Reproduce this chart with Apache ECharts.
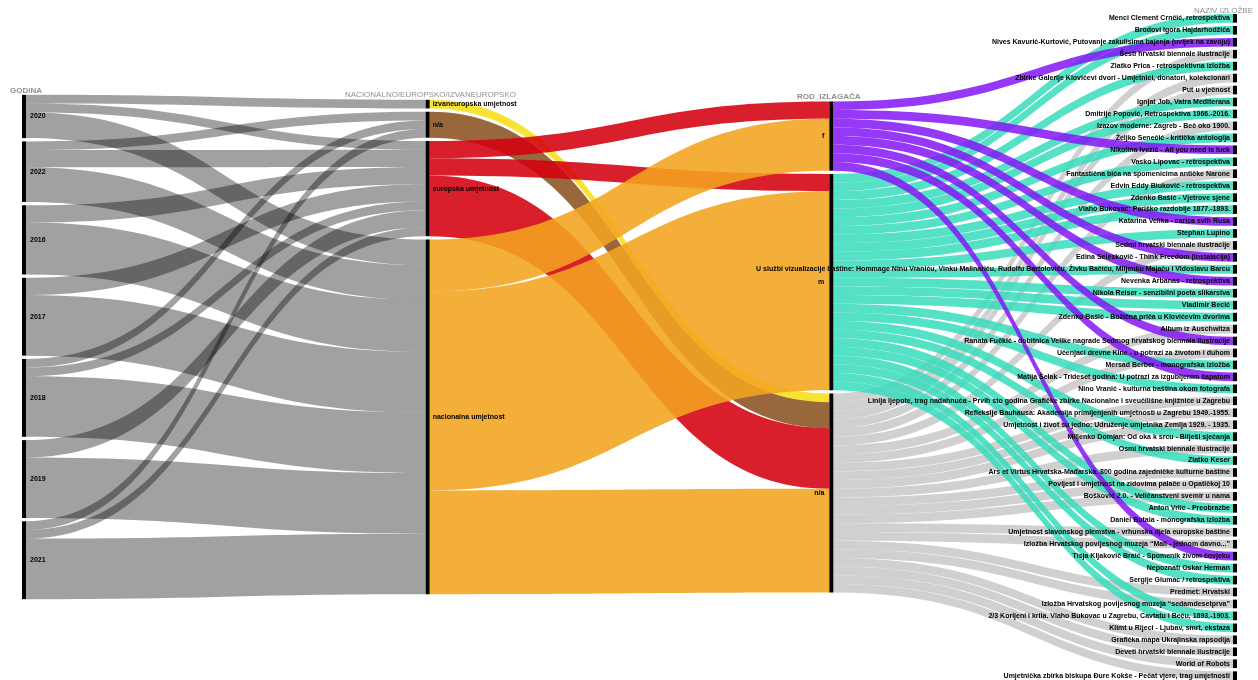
<!DOCTYPE html>
<html>
<head>
<meta charset="utf-8">
<title>Izložbe</title>
<script src="https://cdn.jsdelivr.net/npm/echarts@6/dist/echarts.min.js"></script>
<style>
  html, body { margin: 0; padding: 0; background: #fff; }
  #chart { width: 1258px; height: 680px; }
</style>
</head>
<body>
<div id="chart"></div>
<script>
// osi (dimenzije)
const years = ['2020', '2022', '2016', '2017', '2018', '2019', '2021'];
const categories = ['izvaneuropska umjetnost', 'n/a', 'europska umjetnost', 'nacionalna umjetnost'];
const genders = ['f', 'm', 'n/a'];

// broj izložbi po godini (redak) i kategoriji (stupac)
const yearCategoryCounts = [
  [1, 0, 1, 3],
  [0, 1, 2, 4],
  [0, 0, 2, 6],
  [0, 0, 2, 7],
  [0, 1, 1, 7],
  [0, 0, 2, 7],
  [0, 1, 1, 7]
];

// broj izložbi po kategoriji (redak) i rodu izlagača (stupac)
const categoryGenderCounts = [
  [0, 0, 1],
  [0, 0, 3],
  [2, 2, 7],
  [6, 23, 12]
];

const exhibitions = [
  'Menci Clement Crnčić, retrospektiva',
  'Brodovi Igora Hajdarhodžića',
  'Nives Kavurić-Kurtović, Putovanje zakulisima bajenja (uvijek na zavoju)',
  'Šesti hrvatski biennale ilustracije',
  'Zlatko Prica - retrospektivna izložba',
  'Zbirke Galerije Klovićevi dvori - Umjetnici, donatori, kolekcionari',
  'Put u vječnost',
  'Ignjat Job, Vatra Mediterana',
  'Dmitrije Popović, Retrospektiva 1966.-2016.',
  'Izazov moderne: Zagreb - Beč oko 1900.',
  'Željko Senečić - kritička antologija',
  'Nikolina Ivezić - All you need is luck',
  'Vasko Lipovac - retrospektiva',
  'Fantastična bića na spomenicima antičke Narone',
  'Edvin Eddy Biuković - retrospektiva',
  'Zdenko Bašić - Vjetrove sjene',
  'Vlaho Bukovac: Pariško razdoblje 1877.-1893.',
  'Katarina Velika - carica svih Rusa',
  'Stephan Lupino',
  'Sedmi hrvatski biennale ilustracije',
  'Edina Seleskovič - Think Freedom (instalacija)',
  'U službi vizualizacije baštine: Hommage Ninu Vraniću, Vinku Malinariću, Rudolfu Bartoloviću, Živku Bačiću, Miljenku Majaču i Vidoslavu Barcu',
  'Nevenka Arbanas - retrospektiva',
  'Nikola Reiser - senzibilni poeta slikarstva',
  'Vladimir Becić',
  'Zdenko Bašić - Božićna priča u Klovićevim dvorima',
  'Album iz Auschwitza',
  'Ranata Fučkić - dobitnica Velike nagrade Sedmog hrvatskog biennala ilustracije',
  'Učenjaci drevne Kine - u potrazi za životom i duhom',
  'Mersad Berber - monografska izložba',
  'Matija Šelak - Trideset godina: U potrazi za izgubljenim šapatom',
  'Nino Vranić - kulturna baština okom fotografa',
  'Linija ljepote, trag nadahnuća - Prvih sto godina Grafičke zbirke Nacionalne i sveučilišne knjižnice u Zagrebu',
  'Refleksije Bauhausa: Akademija primijenjenih umjetnosti u Zagrebu 1949.-1955.',
  'Umjetnost i život su jedno: Udruženje umjetnika Zemlja 1929. - 1935.',
  'Miljenko Domjan: Od oka k srcu - Bilješi sjećanja',
  'Osmi hrvatski biennale ilustracije',
  'Zlatko Keser',
  'Ars et Virtus Hrvatska-Mađarska. 800 godina zajedničke kulturne baštine',
  'Povijest i umjetnost na zidovima palače u Opatičkoj 10',
  'Bošković 2.0. - Veličanstveni svemir u nama',
  'Anton Vrlić - Preobrazbe',
  'Daniel Butala - monografska izložba',
  'Umjetnost slavonskog plemstva - vrhunska djela europske baštine',
  'Izložba Hrvatskog povijesnog muzeja “Mali - jednom davno...”',
  'Tisja Kljaković Braić - Spomenik živom čovjeku',
  'Nepoznati Oskar Herman',
  'Sergije Glumac / retrospektiva',
  'Predmet: Hrvatski',
  'Izložba Hrvatskog povijesnog muzeja “sedamdesetprva”',
  '2/3 Korijeni i krila. Vlaho Bukovac u Zagrebu, Cavtatu i Beču, 1893.-1903.',
  'Klimt u Rijeci - Ljubav, smrt, ekstaza',
  'Grafička mapa Ukrajinska rapsodija',
  'Deveti hrvatski biennale ilustracije',
  'World of Robots',
  'Umjetnička zbirka biskupa Đure Kokše - Pečat vjere, trag umjetnosti'
];

// rod izlagača za svaku izložbu (istim redom)
const exhibitionGender = [
  'm', 'm', 'f', 'n/a', 'm', 'n/a', 'n/a', 'm', 'm', 'n/a',
  'm', 'f', 'm', 'n/a', 'm', 'm', 'm', 'f', 'm', 'n/a',
  'f', 'm', 'f', 'm', 'm', 'm', 'n/a', 'f', 'n/a', 'm',
  'f', 'm', 'n/a', 'n/a', 'n/a', 'm', 'n/a', 'm', 'n/a', 'n/a',
  'n/a', 'm', 'm', 'n/a', 'n/a', 'f', 'm', 'm', 'n/a', 'n/a',
  'm', 'm', 'n/a', 'n/a', 'n/a', 'n/a'
];

// boje
const yearLinkColor = '#000';
const categoryColors = ['#f7df16', '#8a5220', '#d4000e', '#f3a420'];
const genderColors = { 'f': '#8416f5', 'm': '#36dcbb', 'n/a': '#c4c4c4' };

const TOP = 14, BOTTOM = 0, GAP = 3.3;
const H = 680 - TOP - BOTTOM;

const sum = a => a.reduce((s, v) => s + v, 0);
const yearTotals = yearCategoryCounts.map(sum);
const categoryTotals = categories.map((c, j) => sum(yearCategoryCounts.map(r => r[j])));
const genderTotals = genders.map(g => exhibitionGender.filter(x => x === g).length);
const exhTotals = exhibitions.map(() => 1);

// stupce centriramo okomito (isti ky kao sankey)
const cols = [yearTotals, categoryTotals, genderTotals, exhTotals];
const ky = Math.min(...cols.map(c => (H - (c.length - 1) * GAP) / sum(c)));
function localYs(vals) {
  const colH = sum(vals) * ky + (vals.length - 1) * GAP;
  let y = (H - colH) / 2;
  return vals.map(v => { const r = y / H; y += v * ky + GAP; return r; });
}

const nodes = [];
const yearIdx = [], catIdx = [], genIdx = [], exhIdx = [];
localYs(yearTotals).forEach((ly, i) => { yearIdx.push(nodes.length); nodes.push({ name: years[i], depth: 0, localY: ly }); });
localYs(categoryTotals).forEach((ly, i) => { catIdx.push(nodes.length); nodes.push({ name: 'kat ' + categories[i], depth: 1, localY: ly, label: { formatter: categories[i] } }); });
localYs(genderTotals).forEach((ly, i) => { genIdx.push(nodes.length); nodes.push({ name: 'rod ' + genders[i], depth: 2, localY: ly, label: { formatter: genders[i] } }); });
localYs(exhTotals).forEach((ly, i) => { exhIdx.push(nodes.length); nodes.push({ name: exhibitions[i], depth: 3, localY: ly }); });

const links = [];
yearCategoryCounts.forEach((row, i) => row.forEach((v, j) => {
  if (v > 0) links.push({ source: yearIdx[i], target: catIdx[j], value: v,
    lineStyle: { color: yearLinkColor, opacity: 0.37 } });
}));
categoryGenderCounts.forEach((row, i) => row.forEach((v, j) => {
  if (v > 0) links.push({ source: catIdx[i], target: genIdx[j], value: v,
    lineStyle: { color: categoryColors[i], opacity: 0.88 } });
}));
['n/a', 'm', 'f'].forEach(g => {
  exhibitionGender.forEach((eg, k) => {
    if (eg !== g) return;
    links.push({ source: genIdx[genders.indexOf(g)], target: exhIdx[k], value: 1,
      lineStyle: { color: genderColors[g], opacity: g === 'n/a' ? 0.8 : 0.85 } });
  });
});

const titleStyle = { fontSize: 8, color: '#8f8f8f', fontFamily: 'Liberation Sans, Arial, sans-serif' };

const chart = echarts.init(document.getElementById('chart'));
chart.setOption({
  backgroundColor: '#fff',
  animation: false,
  title: [
    { text: 'GODINA', left: 10, top: 87, padding: 0, textStyle: Object.assign({}, titleStyle, { fontWeight: 'bold' }) },
    { text: 'NACIONALNO/EUROPSKO/IZVANEUROPSKO', left: 345, top: 91, padding: 0, textStyle: Object.assign({}, titleStyle, { fontWeight: 'normal' }) },
    { text: 'ROD_IZLAGAČA', left: 797, top: 93, padding: 0, textStyle: Object.assign({}, titleStyle, { fontWeight: 'bold' }) },
    { text: 'NAZIV IZLOŽBE', right: 5, top: 7, padding: 0, textStyle: Object.assign({}, titleStyle, { fontWeight: 'normal' }) }
  ],
  series: [{
    type: 'sankey',
    left: 22, right: 21, top: TOP, bottom: BOTTOM,
    nodeWidth: 4,
    nodeGap: GAP,
    layoutIterations: 0,
    draggable: false,
    emphasis: { disabled: true },
    itemStyle: { color: '#000', borderWidth: 0 },
    lineStyle: { curveness: 0.5 },
    label: {
      fontSize: 7, fontWeight: 'bold', color: '#000',
      fontFamily: 'Liberation Sans, Arial, sans-serif'
    },
    levels: [
      { depth: 0, label: { position: 'right', distance: 4 } },
      { depth: 1, label: { position: 'right', distance: 3 } },
      { depth: 2, label: { position: 'left', distance: 5 } },
      { depth: 3, label: { position: 'left', distance: 3 } }
    ],
    data: nodes,
    links: links
  }]
});
</script>
</body>
</html>
